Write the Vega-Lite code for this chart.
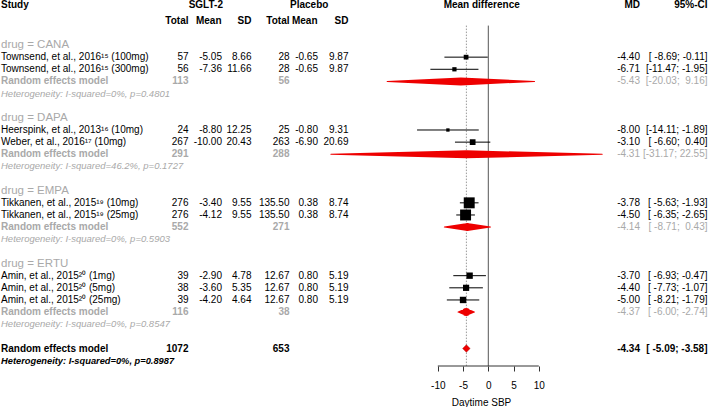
{
  "$schema": "https://vega.github.io/schema/vega-lite/v6.json",
  "width": 709,
  "height": 366,
  "padding": 0,
  "autosize": {"type": "pad"},
  "background": "white",
  "config": {
    "view": {"stroke": null},
    "font": "Liberation Sans",
    "locale": {"number": {"decimal": ".", "thousands": ",", "grouping": [3], "currency": ["$", ""], "minus": "-"}},
    "axisX": {"domain": false, "grid": false, "tickSize": 5, "tickColor": "#333333", "labelFontSize": 10, "labelColor": "#000000", "labelPadding": 9, "labelFont": "Liberation Sans", "titleFont": "Liberation Sans", "titleFontSize": 10, "titleFontWeight": "normal", "titleColor": "#000000", "titlePadding": 7, "titleX": 481, "titleAlign": "center"}
  },
  "datasets": {
    "rows": [
      {"row": 3, "type": "group", "label": "drug = CANA"},
      {"row": 4, "type": "study", "label": "Townsend, et al., 2016\u00b9\u2075 (100mg)", "n1": 57, "m1": -5.05, "sd1": 8.66, "n2": 28, "m2": -0.65, "sd2": 9.87, "md": -4.40, "lower": -8.69, "upper": -0.11, "ci": "[\u00a0-8.69; -0.11]", "weight": 5.1},
      {"row": 5, "type": "study", "label": "Townsend, et al., 2016\u00b9\u2075 (300mg)", "n1": 56, "m1": -7.36, "sd1": 11.66, "n2": 28, "m2": -0.65, "sd2": 9.87, "md": -6.71, "lower": -11.47, "upper": -1.95, "ci": "[-11.47; -1.95]", "weight": 4.1},
      {"row": 6, "type": "re", "label": "Random effects model", "n1": 113, "n2": 56, "md": -5.43, "lower": -20.03, "upper": 9.16, "ci": "[-20.03;\u00a0\u00a09.16]"},
      {"row": 7, "type": "het", "label": "Heterogeneity: I-squared=0%, p=0.4801"},
      {"row": 9, "type": "group", "label": "drug = DAPA"},
      {"row": 10, "type": "study", "label": "Heerspink, et al., 2013\u00b9\u2076 (10mg)", "n1": 24, "m1": -8.80, "sd1": 12.25, "n2": 25, "m2": -0.80, "sd2": 9.31, "md": -8.00, "lower": -14.11, "upper": -1.89, "ci": "[-14.11; -1.89]", "weight": 2.5},
      {"row": 11, "type": "study", "label": "Weber, et al., 2016\u00b9\u2077 (10mg)", "n1": 267, "m1": -10.00, "sd1": 20.43, "n2": 263, "m2": -6.90, "sd2": 20.69, "md": -3.10, "lower": -6.60, "upper": 0.40, "ci": "[\u00a0-6.60; \u00a00.40]", "weight": 7.5},
      {"row": 12, "type": "re", "label": "Random effects model", "n1": 291, "n2": 288, "md": -4.31, "lower": -31.17, "upper": 22.55, "ci": "[-31.17; 22.55]"},
      {"row": 13, "type": "het", "label": "Heterogeneity: I-squared=46.2%, p=0.1727"},
      {"row": 15, "type": "group", "label": "drug = EMPA"},
      {"row": 16, "type": "study", "label": "Tikkanen, et al., 2015\u00b9\u2079 (10mg)", "n1": 276, "m1": -3.40, "sd1": 9.55, "n2": 135.50, "m2": 0.38, "sd2": 8.74, "md": -3.78, "lower": -5.63, "upper": -1.93, "ci": "[\u00a0-5.63; -1.93]", "weight": 27.2},
      {"row": 17, "type": "study", "label": "Tikkanen, et al., 2015\u00b9\u2079 (25mg)", "n1": 276, "m1": -4.12, "sd1": 9.55, "n2": 135.50, "m2": 0.38, "sd2": 8.74, "md": -4.50, "lower": -6.35, "upper": -2.65, "ci": "[\u00a0-6.35; -2.65]", "weight": 27.2},
      {"row": 18, "type": "re", "label": "Random effects model", "n1": 552, "n2": 271, "md": -4.14, "lower": -8.71, "upper": 0.43, "ci": "[\u00a0-8.71; \u00a00.43]"},
      {"row": 19, "type": "het", "label": "Heterogeneity: I-squared=0%, p=0.5903"},
      {"row": 21, "type": "group", "label": "drug = ERTU"},
      {"row": 22, "type": "study", "label": "Amin, et al., 2015\u00b2\u2070 (1mg)", "n1": 39, "m1": -2.90, "sd1": 4.78, "n2": 12.67, "m2": 0.80, "sd2": 5.19, "md": -3.70, "lower": -6.93, "upper": -0.47, "ci": "[\u00a0-6.93; -0.47]", "weight": 9.2},
      {"row": 23, "type": "study", "label": "Amin, et al., 2015\u00b2\u2070 (5mg)", "n1": 38, "m1": -3.60, "sd1": 5.35, "n2": 12.67, "m2": 0.80, "sd2": 5.19, "md": -4.40, "lower": -7.73, "upper": -1.07, "ci": "[\u00a0-7.73; -1.07]", "weight": 8.7},
      {"row": 24, "type": "study", "label": "Amin, et al., 2015\u00b2\u2070 (25mg)", "n1": 39, "m1": -4.20, "sd1": 4.64, "n2": 12.67, "m2": 0.80, "sd2": 5.19, "md": -5.00, "lower": -8.21, "upper": -1.79, "ci": "[\u00a0-8.21; -1.79]", "weight": 9.3},
      {"row": 25, "type": "re", "label": "Random effects model", "n1": 116, "n2": 38, "md": -4.37, "lower": -6.00, "upper": -2.74, "ci": "[\u00a0-6.00; -2.74]"},
      {"row": 26, "type": "het", "label": "Heterogeneity: I-squared=0%, p=0.8547"},
      {"row": 28, "type": "overall", "label": "Random effects model", "n1": 1072, "n2": 653, "md": -4.34, "lower": -5.09, "upper": -3.58, "ci": "[\u00a0-5.09; -3.58]"},
      {"row": 29, "type": "overallhet", "label": "Heterogeneity: I-squared=0%, p=0.8987"}
    ],
    "headers": [
      {"col": "study", "row": -0.28, "text": "Study"},
      {"col": "sglt", "row": -0.28, "text": "SGLT-2"},
      {"col": "plac", "row": -0.28, "text": "Placebo"},
      {"col": "mdiff", "row": -0.28, "text": "Mean difference"},
      {"col": "md", "row": -0.28, "text": "MD"},
      {"col": "ci", "row": -0.28, "text": "95%-CI"},
      {"col": "n1", "row": 1, "text": "Total"},
      {"col": "m1", "row": 1, "text": "Mean"},
      {"col": "sd1", "row": 1, "text": "SD"},
      {"col": "n2", "row": 1, "text": "Total"},
      {"col": "m2", "row": 1, "text": "Mean"},
      {"col": "sd2", "row": 1, "text": "SD"}
    ]
  },
  "encoding": {
    "y": {"field": "row", "type": "quantitative", "scale": {"domain": [-0.708, 29.44], "reverse": true, "nice": false, "zero": false}, "axis": null}
  },
  "layer": [
    {
      "data": {"name": "rows"},
      "transform": [{"filter": "datum.type == 'overall'"}],
      "mark": {"type": "rule", "color": "#555555", "strokeWidth": 1},
      "encoding": {
        "x": {"datum": 0, "type": "quantitative", "scale": {"domain": [-96.69, 43.70], "nice": false, "zero": false}, "axis": {"values": [-10, -5, 0, 5, 10]}, "title": "Daytime SBP"},
        "y": {"datum": 1.4},
        "y2": {"value": "height"}
      }
    },
    {
      "data": {"name": "rows"},
      "transform": [{"filter": "datum.type == 'overall'"}],
      "mark": {"type": "rule", "color": "#999999", "strokeWidth": 1, "strokeDash": [1.5, 1.5]},
      "encoding": {
        "x": {"field": "md", "type": "quantitative", "scale": {"domain": [-96.69, 43.70], "nice": false, "zero": false}, "axis": {"values": [-10, -5, 0, 5, 10]}, "title": "Daytime SBP"},
        "y": {"datum": 1.4},
        "y2": {"value": "height"}
      }
    },
    {
      "data": {"name": "rows"},
      "transform": [{"filter": "datum.type == 'overall'"}],
      "mark": {"type": "rule", "color": "#333333", "strokeWidth": 1},
      "encoding": {
        "x": {"datum": -10, "type": "quantitative", "axis": {"values": [-10, -5, 0, 5, 10]}, "title": "Daytime SBP"},
        "x2": {"datum": 10},
        "y": {"value": "height"}
      }
    },
    {
      "data": {"name": "rows"},
      "transform": [{"filter": "datum.type == 'study'"}],
      "mark": {"type": "rule", "color": "#000000", "strokeWidth": 1},
      "encoding": {
        "x": {"field": "lower", "type": "quantitative", "axis": {"values": [-10, -5, 0, 5, 10]}, "title": "Daytime SBP"},
        "x2": {"field": "upper"}
      }
    },
    {
      "data": {"name": "rows"},
      "transform": [{"filter": "datum.type == 'study'"}],
      "mark": {"type": "point", "shape": "square", "filled": true, "color": "#000000", "opacity": 1, "strokeWidth": 0},
      "encoding": {
        "x": {"field": "md", "type": "quantitative", "axis": {"values": [-10, -5, 0, 5, 10]}, "title": "Daytime SBP"},
        "size": {"field": "weight", "type": "quantitative", "scale": {"domain": [0, 100], "range": [0, 440], "zero": true}, "legend": null}
      }
    },
    {
      "data": {"name": "rows"},
      "transform": [
        {"filter": "datum.type == 're'"},
        {"fold": ["lower", "md", "upper"]}
      ],
      "mark": {"type": "trail", "color": "#ee0000", "opacity": 1},
      "encoding": {
        "x": {"field": "value", "type": "quantitative", "axis": {"values": [-10, -5, 0, 5, 10]}, "title": "Daytime SBP"},
        "size": {"field": "key", "type": "nominal", "scale": {"type": "ordinal", "domain": ["lower", "md", "upper"], "range": [0, 8, 0]}, "legend": null},
        "detail": {"field": "row", "type": "nominal"},
        "order": {"field": "value", "type": "quantitative"}
      }
    },
    {
      "data": {"name": "rows"},
      "transform": [{"filter": "datum.type == 'overall'"}],
      "mark": {"type": "point", "shape": "diamond", "filled": true, "color": "#ee0000", "opacity": 1, "size": 56, "stroke": "#990000", "strokeWidth": 0.4},
      "encoding": {
        "x": {"field": "md", "type": "quantitative", "axis": {"values": [-10, -5, 0, 5, 10]}, "title": "Daytime SBP"}
      }
    },
    {
      "data": {"name": "headers"},
      "transform": [{"filter": "datum.col == 'study'"}],
      "mark": {"type": "text", "align": "left", "fontSize": 10, "fontWeight": "bold", "color": "#000000"},
      "encoding": {"x": {"value": 1}, "text": {"field": "text", "type": "nominal"}}
    },
    {
      "data": {"name": "headers"},
      "transform": [{"filter": "datum.col == 'sglt'"}],
      "mark": {"type": "text", "align": "center", "fontSize": 10, "fontWeight": "bold", "color": "#000000"},
      "encoding": {"x": {"value": 205.8}, "text": {"field": "text", "type": "nominal"}}
    },
    {
      "data": {"name": "headers"},
      "transform": [{"filter": "datum.col == 'plac'"}],
      "mark": {"type": "text", "align": "center", "fontSize": 10, "fontWeight": "bold", "color": "#000000"},
      "encoding": {"x": {"value": 309.2}, "text": {"field": "text", "type": "nominal"}}
    },
    {
      "data": {"name": "headers"},
      "transform": [{"filter": "datum.col == 'mdiff'"}],
      "mark": {"type": "text", "align": "center", "fontSize": 10, "fontWeight": "bold", "color": "#000000"},
      "encoding": {"x": {"value": 481.7}, "text": {"field": "text", "type": "nominal"}}
    },
    {
      "data": {"name": "headers"},
      "transform": [{"filter": "datum.col == 'md'"}],
      "mark": {"type": "text", "align": "right", "fontSize": 10, "fontWeight": "bold", "color": "#000000"},
      "encoding": {"x": {"value": 640}, "text": {"field": "text", "type": "nominal"}}
    },
    {
      "data": {"name": "headers"},
      "transform": [{"filter": "datum.col == 'ci'"}],
      "mark": {"type": "text", "align": "right", "fontSize": 10, "fontWeight": "bold", "color": "#000000"},
      "encoding": {"x": {"value": 707.5}, "text": {"field": "text", "type": "nominal"}}
    },
    {
      "data": {"name": "headers"},
      "transform": [{"filter": "datum.col == 'n1'"}],
      "mark": {"type": "text", "align": "right", "fontSize": 10, "fontWeight": "bold", "color": "#000000"},
      "encoding": {"x": {"value": 188.5}, "text": {"field": "text", "type": "nominal"}}
    },
    {
      "data": {"name": "headers"},
      "transform": [{"filter": "datum.col == 'm1'"}],
      "mark": {"type": "text", "align": "right", "fontSize": 10, "fontWeight": "bold", "color": "#000000"},
      "encoding": {"x": {"value": 221.5}, "text": {"field": "text", "type": "nominal"}}
    },
    {
      "data": {"name": "headers"},
      "transform": [{"filter": "datum.col == 'sd1'"}],
      "mark": {"type": "text", "align": "right", "fontSize": 10, "fontWeight": "bold", "color": "#000000"},
      "encoding": {"x": {"value": 251.5}, "text": {"field": "text", "type": "nominal"}}
    },
    {
      "data": {"name": "headers"},
      "transform": [{"filter": "datum.col == 'n2'"}],
      "mark": {"type": "text", "align": "right", "fontSize": 10, "fontWeight": "bold", "color": "#000000"},
      "encoding": {"x": {"value": 289.5}, "text": {"field": "text", "type": "nominal"}}
    },
    {
      "data": {"name": "headers"},
      "transform": [{"filter": "datum.col == 'm2'"}],
      "mark": {"type": "text", "align": "right", "fontSize": 10, "fontWeight": "bold", "color": "#000000"},
      "encoding": {"x": {"value": 317.5}, "text": {"field": "text", "type": "nominal"}}
    },
    {
      "data": {"name": "headers"},
      "transform": [{"filter": "datum.col == 'sd2'"}],
      "mark": {"type": "text", "align": "right", "fontSize": 10, "fontWeight": "bold", "color": "#000000"},
      "encoding": {"x": {"value": 348.5}, "text": {"field": "text", "type": "nominal"}}
    },
    {
      "data": {"name": "rows"},
      "transform": [{"filter": "datum.type == 'group'"}],
      "mark": {"type": "text", "align": "left", "fontSize": 11.5, "color": "#A9A9A9"},
      "encoding": {"x": {"value": 1}, "text": {"field": "label", "type": "nominal"}}
    },
    {
      "data": {"name": "rows"},
      "transform": [{"filter": "datum.type == 'study'"}],
      "mark": {"type": "text", "align": "left", "fontSize": 10, "color": "#000000"},
      "encoding": {"x": {"value": 1}, "text": {"field": "label", "type": "nominal"}}
    },
    {
      "data": {"name": "rows"},
      "transform": [{"filter": "datum.type == 're'"}],
      "mark": {"type": "text", "align": "left", "fontSize": 10, "fontWeight": "bold", "color": "#A9A9A9"},
      "encoding": {"x": {"value": 1}, "text": {"field": "label", "type": "nominal"}}
    },
    {
      "data": {"name": "rows"},
      "transform": [{"filter": "datum.type == 'het'"}],
      "mark": {"type": "text", "align": "left", "fontSize": 9.5, "fontStyle": "italic", "color": "#A9A9A9"},
      "encoding": {"x": {"value": 1}, "text": {"field": "label", "type": "nominal"}}
    },
    {
      "data": {"name": "rows"},
      "transform": [{"filter": "datum.type == 'overall'"}],
      "mark": {"type": "text", "align": "left", "fontSize": 10, "fontWeight": "bold", "color": "#000000"},
      "encoding": {"x": {"value": 1}, "text": {"field": "label", "type": "nominal"}}
    },
    {
      "data": {"name": "rows"},
      "transform": [{"filter": "datum.type == 'overallhet'"}],
      "mark": {"type": "text", "align": "left", "fontSize": 9.3, "fontStyle": "italic", "fontWeight": "bold", "color": "#000000"},
      "encoding": {"x": {"value": 1}, "text": {"field": "label", "type": "nominal"}}
    },
    {
      "data": {"name": "rows"},
      "transform": [{"filter": "isValid(datum.n1)"}],
      "mark": {"type": "text", "align": "right", "fontSize": 10, "fontWeight": {"expr": "datum.type == 'study' ? 'normal' : 'bold'"}},
      "encoding": {
        "x": {"value": 188.5},
        "text": {"field": "n1", "type": "quantitative", "format": "d"},
        "color": {"field": "type", "type": "nominal", "scale": {"domain": ["group", "study", "re", "het", "overall", "overallhet"], "range": ["#A9A9A9", "#000000", "#A9A9A9", "#A9A9A9", "#000000", "#000000"]}, "legend": null}
      }
    },
    {
      "data": {"name": "rows"},
      "transform": [{"filter": "isValid(datum.m1)"}],
      "mark": {"type": "text", "align": "right", "fontSize": 10},
      "encoding": {
        "x": {"value": 222},
        "text": {"field": "m1", "type": "quantitative", "format": ".2f"},
        "color": {"field": "type", "type": "nominal", "legend": null}
      }
    },
    {
      "data": {"name": "rows"},
      "transform": [{"filter": "isValid(datum.sd1)"}],
      "mark": {"type": "text", "align": "right", "fontSize": 10},
      "encoding": {
        "x": {"value": 251.5},
        "text": {"field": "sd1", "type": "quantitative", "format": ".2f"},
        "color": {"field": "type", "type": "nominal", "legend": null}
      }
    },
    {
      "data": {"name": "rows"},
      "transform": [{"filter": "isValid(datum.n2) && datum.n2 % 1 == 0"}],
      "mark": {"type": "text", "align": "right", "fontSize": 10, "fontWeight": {"expr": "datum.type == 'study' ? 'normal' : 'bold'"}},
      "encoding": {
        "x": {"value": 289.5},
        "text": {"field": "n2", "type": "quantitative", "format": "d"},
        "color": {"field": "type", "type": "nominal", "legend": null}
      }
    },
    {
      "data": {"name": "rows"},
      "transform": [{"filter": "isValid(datum.n2) && datum.n2 % 1 != 0"}],
      "mark": {"type": "text", "align": "right", "fontSize": 10},
      "encoding": {
        "x": {"value": 289.5},
        "text": {"field": "n2", "type": "quantitative", "format": ".2f"},
        "color": {"field": "type", "type": "nominal", "legend": null}
      }
    },
    {
      "data": {"name": "rows"},
      "transform": [{"filter": "isValid(datum.m2)"}],
      "mark": {"type": "text", "align": "right", "fontSize": 10},
      "encoding": {
        "x": {"value": 318},
        "text": {"field": "m2", "type": "quantitative", "format": ".2f"},
        "color": {"field": "type", "type": "nominal", "legend": null}
      }
    },
    {
      "data": {"name": "rows"},
      "transform": [{"filter": "isValid(datum.sd2)"}],
      "mark": {"type": "text", "align": "right", "fontSize": 10},
      "encoding": {
        "x": {"value": 348.5},
        "text": {"field": "sd2", "type": "quantitative", "format": ".2f"},
        "color": {"field": "type", "type": "nominal", "legend": null}
      }
    },
    {
      "data": {"name": "rows"},
      "transform": [{"filter": "isValid(datum.md)"}],
      "mark": {"type": "text", "align": "right", "fontSize": 10, "fontWeight": {"expr": "datum.type == 'overall' ? 'bold' : 'normal'"}},
      "encoding": {
        "x": {"value": 640},
        "text": {"field": "md", "type": "quantitative", "format": ".2f"},
        "color": {"field": "type", "type": "nominal", "legend": null}
      }
    },
    {
      "data": {"name": "rows"},
      "transform": [{"filter": "isValid(datum.ci)"}],
      "mark": {"type": "text", "align": "right", "fontSize": 10, "fontWeight": {"expr": "datum.type == 'overall' ? 'bold' : 'normal'"}},
      "encoding": {
        "x": {"value": 707.5},
        "text": {"field": "ci", "type": "nominal"},
        "color": {"field": "type", "type": "nominal", "legend": null}
      }
    }
  ],
  "resolve": {"scale": {"size": "independent"}}
}
